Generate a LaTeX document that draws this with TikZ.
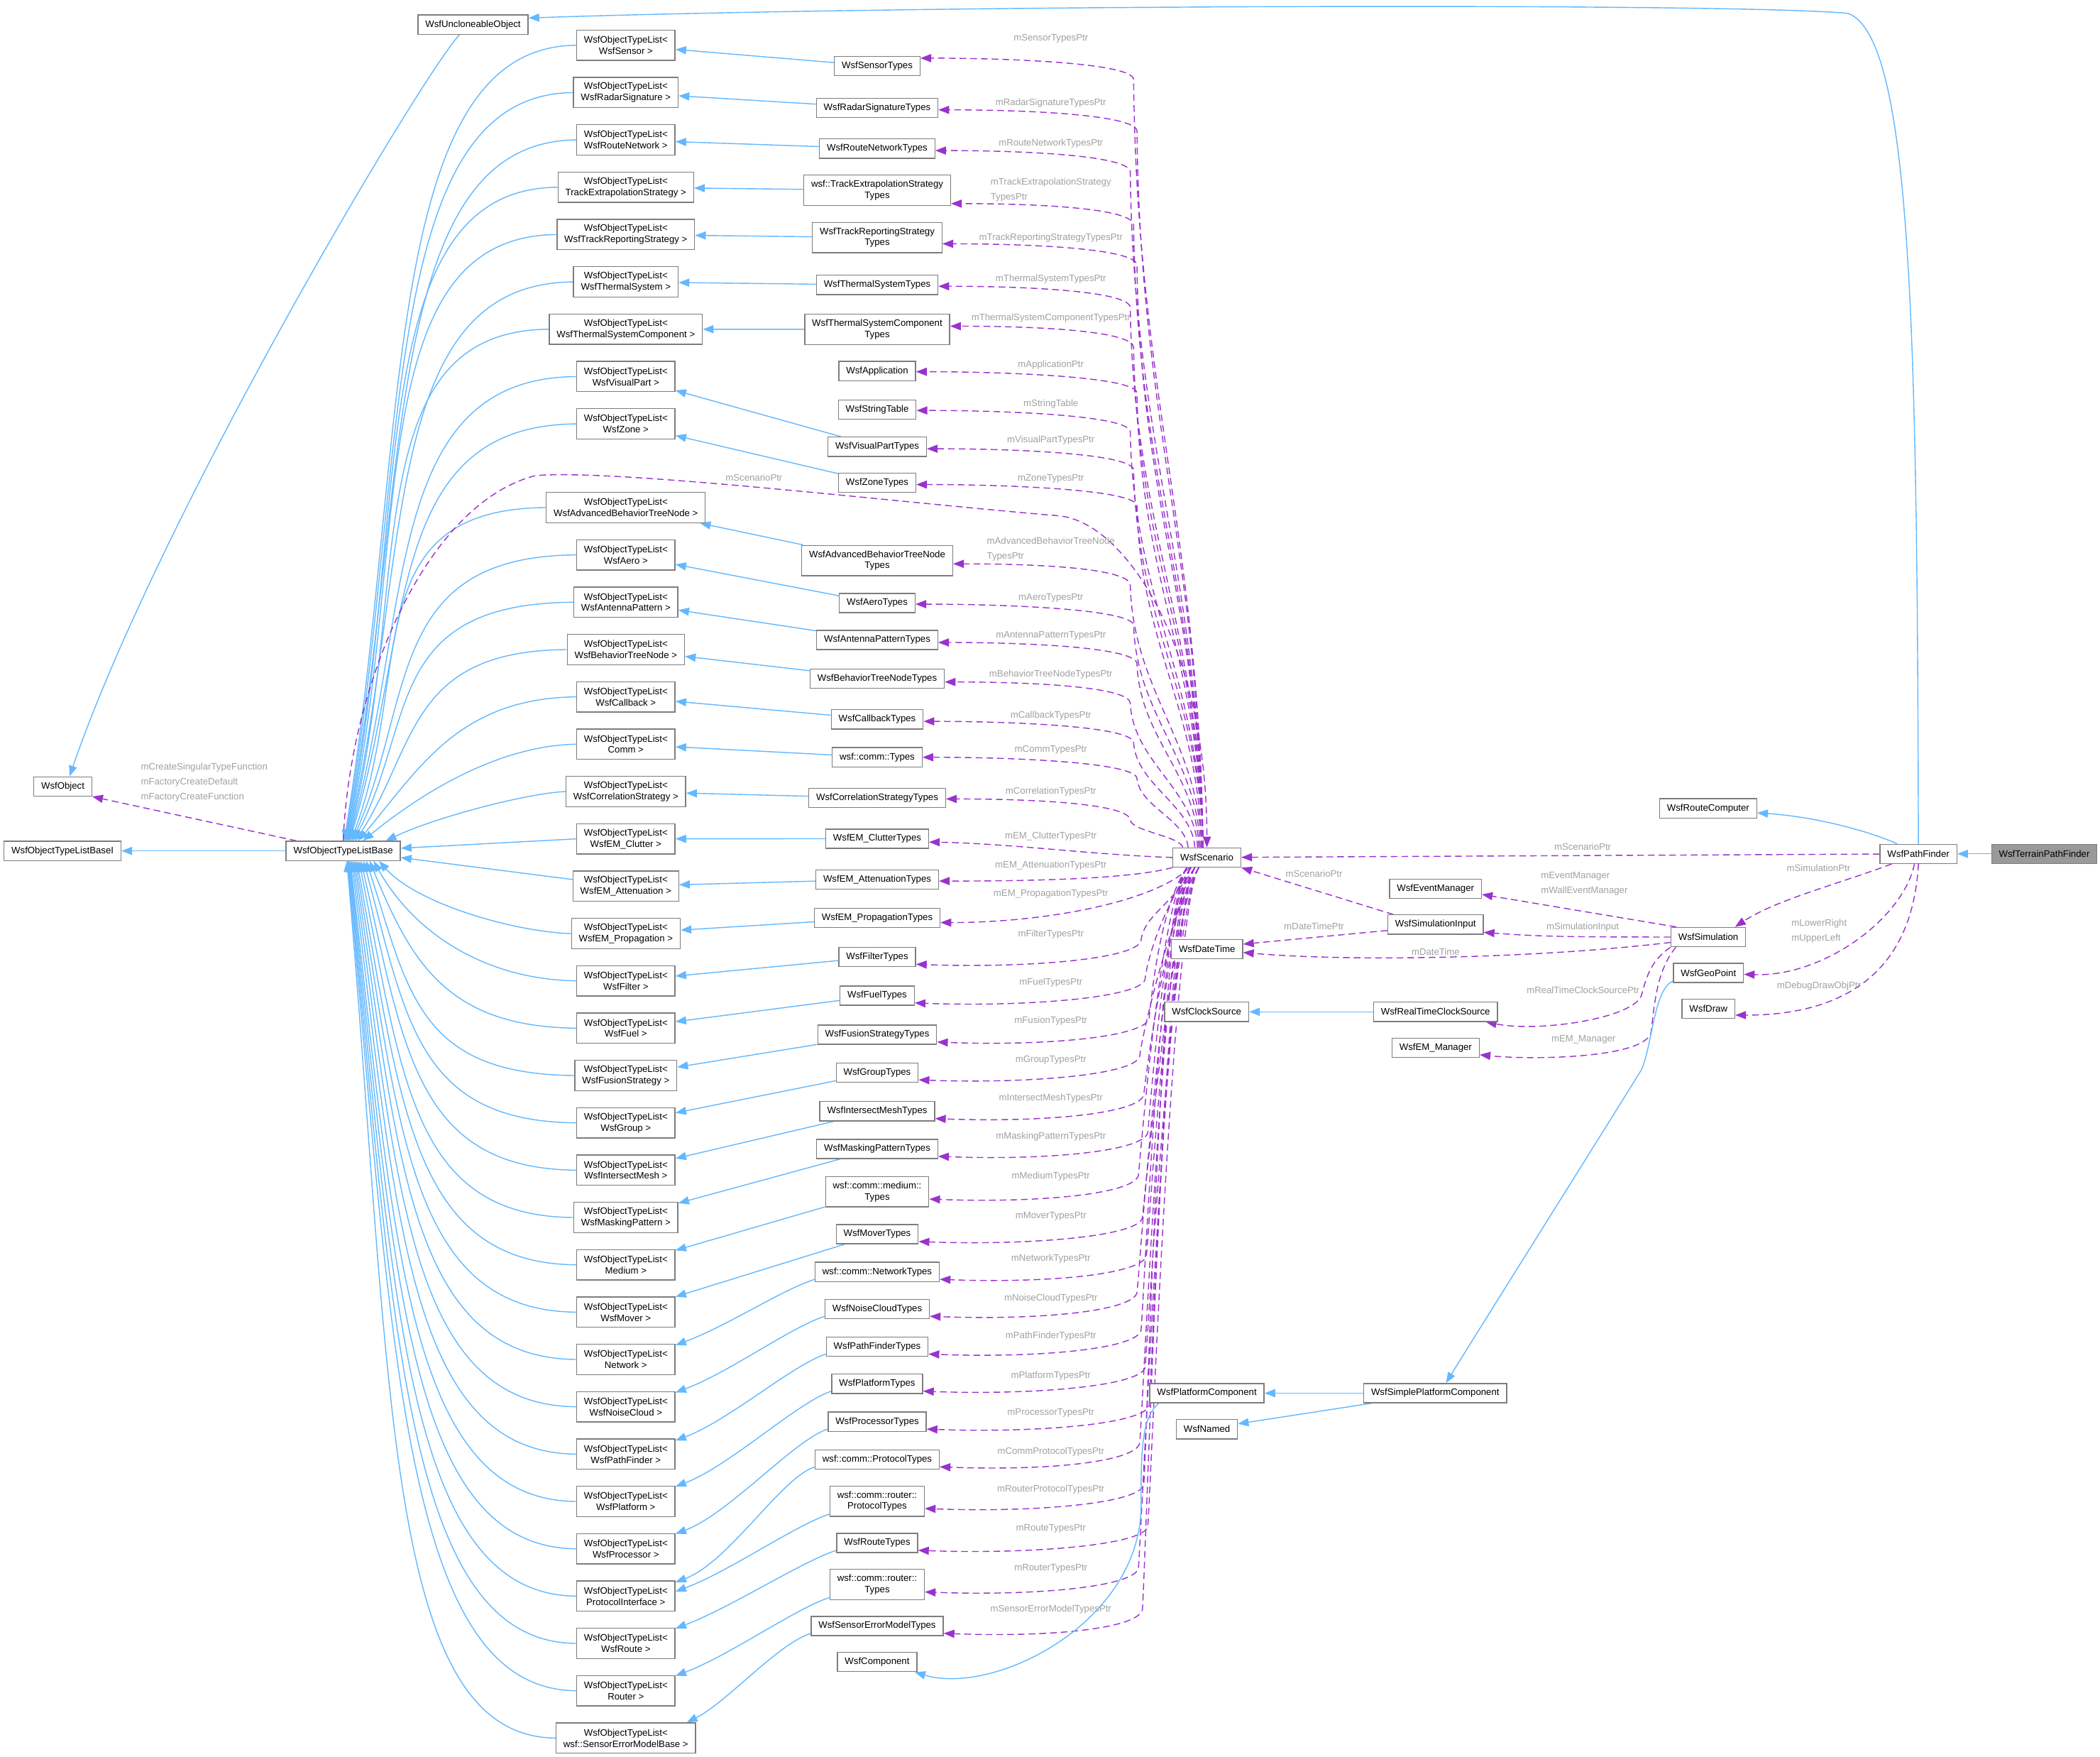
\documentclass[tikz,border=0pt]{standalone}
\usepackage{fontspec}
\setmainfont{Liberation Sans}
\usetikzlibrary{arrows.meta, backgrounds}
\definecolor{inhblue}{RGB}{99,184,255}
\definecolor{usepurple}{RGB}{154,50,205}
\definecolor{lblgrey}{RGB}{160,160,160}
\definecolor{boxgrey}{RGB}{125,125,125}
\definecolor{hilitegrey}{RGB}{153,153,153}
\tikzset{
  cls/.style={draw=boxgrey, line width=0.7pt, fill=white, inner xsep=5.5pt, inner ysep=3.85pt,
    minimum height=14.4pt, align=center, font=\fontsize{7}{8.4}\selectfont},
  tlist/.style={cls, minimum height=22.6pt},
  hilite/.style={cls, fill=hilitegrey},
  inh/.style={draw=inhblue, line width=0.75pt, -{Triangle[length=8pt,width=6pt]}},
  member/.style={draw=usepurple, line width=0.75pt, dash pattern=on 5pt off 3pt, -{Triangle[length=8pt,width=6pt]}},
  lbl/.style={text=lblgrey, inner sep=0pt, align=left, font=\fontsize{7}{11.1}\selectfont},
}

\begin{document}
\begin{tikzpicture}[x=1pt, y=-1pt]
  \useasboundingbox (0,0) rectangle (1568.1,1311.6);

  % base classes on the left
  \node[cls] (uncl) at (353.2,18.4) {WsfUncloneableObject};
  \node[cls] (obj) at (46.9,587.1) {WsfObject};
  \node[cls] (tlbi) at (46.7,635.2) {WsfObjectTypeListBaseI};
  \node[cls] (tlb) at (256.3,635.2) {WsfObjectTypeListBase};

  % the object type lists
  \foreach \k/\tx [count=\i] in {Sensor/WsfSensor, RadarSignature/WsfRadarSignature,
      RouteNetwork/WsfRouteNetwork, TrackExtrapolation/TrackExtrapolationStrategy,
      TrackReporting/WsfTrackReportingStrategy, ThermalSystem/WsfThermalSystem,
      ThermalSystemComponent/WsfThermalSystemComponent, VisualPart/WsfVisualPart, Zone/WsfZone,
      AdvBT/WsfAdvancedBehaviorTreeNode, Aero/WsfAero, AntennaPattern/WsfAntennaPattern,
      BehaviorTreeNode/WsfBehaviorTreeNode, Callback/WsfCallback, Comm/Comm,
      Correlation/WsfCorrelationStrategy, EMClutter/WsfEM\_Clutter, EMAttenuation/WsfEM\_Attenuation,
      EMPropagation/WsfEM\_Propagation, Filter/WsfFilter, Fuel/WsfFuel, Fusion/WsfFusionStrategy,
      Group/WsfGroup, IntersectMesh/WsfIntersectMesh, MaskingPattern/WsfMaskingPattern,
      Medium/Medium, Mover/WsfMover, Network/Network, NoiseCloud/WsfNoiseCloud,
      PathFinder/WsfPathFinder, Platform/WsfPlatform, Processor/WsfProcessor,
      ProtocolInterface/ProtocolInterface, Route/WsfRoute, Router/Router,
      SensorErrorModel/wsf::SensorErrorModelBase} {
    \ifnum\i<10
      \pgfmathsetmacro{\y}{33.8+35.33*(\i-1)}
    \else
      \pgfmathsetmacro{\y}{378.9+35.33*(\i-10)}
    \fi
    \node[tlist] (l\k) at (467.3,\y) {WsfObjectTypeList<\\\tx{} >};
  }

  % the type tables
  \foreach \k/\y/\mh/\tx in {Sensor/49.4/14.4/WsfSensorTypes,
      RadarSignature/80.5/14.4/WsfRadarSignatureTypes,
      RouteNetwork/110.9/14.4/WsfRouteNetworkTypes,
      TrackExtrapolation/142/22.6/{wsf::TrackExtrapolationStrategy\\Types},
      TrackReporting/177.3/22.6/{WsfTrackReportingStrategy\\Types},
      ThermalSystem/212.7/14.4/WsfThermalSystemTypes,
      ThermalSystemComponent/245.8/22.6/{WsfThermalSystemComponent\\Types},
      Application/277/14.4/WsfApplication,
      StringTable/305.9/14.4/WsfStringTable,
      VisualPart/333.5/14.4/WsfVisualPartTypes,
      Zone/360.4/14.4/WsfZoneTypes,
      AdvBT/418.4/22.6/{WsfAdvancedBehaviorTreeNode\\Types},
      Aero/450.2/14.4/WsfAeroTypes,
      AntennaPattern/477.7/14.4/WsfAntennaPatternTypes,
      BehaviorTreeNode/506.5/14.4/WsfBehaviorTreeNodeTypes,
      Callback/537/14.4/WsfCallbackTypes,
      Comm/565.3/14.4/wsf::comm::Types,
      Correlation/595.7/14.4/WsfCorrelationStrategyTypes,
      EMClutter/626.1/14.4/WsfEM\_ClutterTypes,
      EMAttenuation/656.5/14.4/WsfEM\_AttenuationTypes,
      EMPropagation/685.2/14.4/WsfEM\_PropagationTypes,
      Filter/714.3/14.4/WsfFilterTypes,
      Fuel/743.2/14.4/WsfFuelTypes,
      Fusion/772.4/14.4/WsfFusionStrategyTypes,
      Group/800.6/14.4/WsfGroupTypes,
      IntersectMesh/829.5/14.4/WsfIntersectMeshTypes,
      MaskingPattern/857.7/14.4/WsfMaskingPatternTypes,
      Medium/889.6/22.6/{wsf::comm::medium::\\Types},
      Mover/921.3/14.4/WsfMoverTypes,
      Network/949.5/14.4/wsf::comm::NetworkTypes,
      NoiseCloud/977.1/14.4/WsfNoiseCloudTypes,
      PathFinder/1005.3/14.4/WsfPathFinderTypes,
      Platform/1033/14.4/WsfPlatformTypes,
      Processor/1061.3/14.4/WsfProcessorTypes,
      Protocol/1089.5/14.4/wsf::comm::ProtocolTypes,
      RouterProtocol/1120.6/22.6/{wsf::comm::router::\\ProtocolTypes},
      Route/1151.8/14.4/WsfRouteTypes,
      Router/1182.9/22.6/{wsf::comm::router::\\Types},
      SensorErrorModel/1213.8/14.4/WsfSensorErrorModelTypes,
      Component/1240.7/14.4/WsfComponent} {
    \node[cls, minimum height=\mh pt] (t\k) at (655,\y) {\tx};
  }

  % member names of the scenario
  \foreach \ly/\lt [count=\j] in {28.9/mSensorTypesPtr, 76.7/mRadarSignatureTypesPtr,
      107.3/mRouteNetworkTypesPtr, 141.7/{mTrackExtrapolationStrategy\\TypesPtr},
      177.4/mTrackReportingStrategyTypesPtr, 208.2/mThermalSystemTypesPtr,
      237.4/mThermalSystemComponentTypesPtr, 272.2/mApplicationPtr, 301.4/mStringTable,
      328.8/mVisualPartTypesPtr, 357.5/mZoneTypesPtr, 409.8/{mAdvancedBehaviorTreeNode\\TypesPtr},
      446.2/mAeroTypesPtr, 474.6/mAntennaPatternTypesPtr, 503.7/mBehaviorTreeNodeTypesPtr,
      534/mCallbackTypesPtr, 560/mCommTypesPtr, 590.8/mCorrelationTypesPtr,
      624.1/mEM\_ClutterTypesPtr, 645.9/mEM\_AttenuationTypesPtr, 667.2/mEM\_PropagationTypesPtr,
      697.7/mFilterTypesPtr, 733.7/mFuelTypesPtr, 761.9/mFusionTypesPtr, 791.1/mGroupTypesPtr,
      819.6/mIntersectMeshTypesPtr, 848.7/mMaskingPatternTypesPtr, 878/mMediumTypesPtr,
      908.2/mMoverTypesPtr, 939.4/mNetworkTypesPtr, 969.2/mNoiseCloudTypesPtr,
      997.5/mPathFinderTypesPtr, 1026.8/mPlatformTypesPtr, 1055/mProcessorTypesPtr,
      1083.6/mCommProtocolTypesPtr, 1111.8/mRouterProtocolTypesPtr, 1141.3/mRouteTypesPtr,
      1170.8/mRouterTypesPtr, 1201.3/mSensorErrorModelTypesPtr} {
    \node[lbl] (lb\j) at (784.7,\ly) {\lt};
  }

  % right side
  \node[cls] (sc) at (901.2,640.1) {WsfScenario};
  \node[cls] (rc) at (1275.5,603.4) {WsfRouteComputer};
  \node[cls] (pf) at (1432.5,637.4) {WsfPathFinder};
  \node[hilite] (tpf) at (1526.5,637.4) {WsfTerrainPathFinder};
  \node[cls] (evm) at (1071.9,663.4) {WsfEventManager};
  \node[cls] (simin) at (1071.9,690.2) {WsfSimulationInput};
  \node[cls] (sim) at (1275.6,699.5) {WsfSimulation};
  \node[cls] (dt) at (901.3,708.6) {WsfDateTime};
  \node[cls] (geo) at (1275.7,726.3) {WsfGeoPoint};
  \node[cls] (cs) at (901,755.3) {WsfClockSource};
  \node[cls] (rtc) at (1071.9,755.3) {WsfRealTimeClockSource};
  \node[cls] (wdraw) at (1275.7,753) {WsfDraw};
  \node[cls] (emm) at (1072,782.1) {WsfEM\_Manager};
  \node[cls] (pc) at (901.2,1040) {WsfPlatformComponent};
  \node[cls] (spc) at (1071.7,1040) {WsfSimplePlatformComponent};
  \node[cls] (nm) at (901.2,1066.9) {WsfNamed};

  \node[lbl] (lbA) at (1181.8,632) {mScenarioPtr};
  \node[lbl] (lbB) at (981.2,652.2) {mScenarioPtr};
  \node[lbl, anchor=west] (lbC) at (1150.5,659.8) {mEventManager\\mWallEventManager};
  \node[lbl] (lbD) at (981.2,691.7) {mDateTimePtr};
  \node[lbl] (lbE) at (1181.8,692.3) {mSimulationInput};
  \node[lbl] (lbF) at (1072,710.5) {mDateTime};
  \node[lbl] (lbG) at (1182.1,738.9) {mRealTimeClockSourcePtr};
  \node[lbl] (lbH) at (1182.4,776) {mEM\_Manager};
  \node[lbl] (lbI) at (1357.9,647.8) {mSimulationPtr};
  \node[lbl, anchor=west] (lbJ) at (1337.6,694.9) {mLowerRight\\mUpperLeft};
  \node[lbl] (lbK) at (1358.2,736.2) {mDebugDrawObjPtr};
  \node[lbl, anchor=west] (lbL) at (105,583.9) {mCreateSingularTypeFunction\\mFactoryCreateDefault\\mFactoryCreateFunction};
  \node[lbl] (lbM) at (563,356.5) {mScenarioPtr};

  \begin{scope}[on background layer]
    % lists down to the common base
    \foreach \k/\ax [count=\i] in {Sensor/257, RadarSignature/257.5, RouteNetwork/258,
        TrackExtrapolation/258.5, TrackReporting/259, ThermalSystem/259.5,
        ThermalSystemComponent/260, VisualPart/260.5, Zone/261, AdvBT/262, Aero/263,
        AntennaPattern/264, BehaviorTreeNode/265.5, Callback/267.5, Comm/271, Correlation/288,
        EMClutter/0, EMAttenuation/0, EMPropagation/283, Filter/279, Fuel/276, Fusion/273.5,
        Group/271.5, IntersectMesh/269.5, MaskingPattern/268, Medium/266.5, Mover/265.5,
        Network/264.5, NoiseCloud/263.5, PathFinder/262.5, Platform/261.5, Processor/261,
        ProtocolInterface/260.5, Route/260, Router/259.5, SensorErrorModel/259} {
      \ifnum\i<10
        \pgfmathsetmacro{\y}{33.8+35.33*(\i-1)}
      \else
        \pgfmathsetmacro{\y}{378.9+35.33*(\i-10)}
      \fi
      \pgfmathsetmacro{\sx}{\ax-256.3}
      \ifnum\i<17
        \pgfmathsetmacro{\ca}{(430-\ax)*min(0.85,(628.1-\y)/200)}
        \pgfmathsetmacro{\cb}{0.28*(430-\ax)}
        \pgfmathsetmacro{\cc}{0.5*(628.1-\y)}
        \draw[inh] (l\k.west) .. controls +(-\ca,1) and +(\cb,-\cc) .. ([xshift=\sx pt]tlb.north);
      \else\ifnum\i>18
        \pgfmathsetmacro{\ca}{(430-\ax)*min(0.75,(\y-642.3)/200)}
        \pgfmathsetmacro{\cb}{0.2*(430-\ax)}
        \pgfmathsetmacro{\cc}{0.6*(\y-642.3)}
        \draw[inh] (l\k.west) .. controls +(-\ca,-1) and +(\cb,\cc) .. ([xshift=\sx pt]tlb.south);
      \fi\fi
    }
    \draw[inh] (lEMClutter.west) -- ([yshift=2pt]tlb.east);
    \draw[inh] ([yshift=5pt]lEMAttenuation.west) -- ([yshift=-5pt]tlb.east);

    % type tables to their lists
    \foreach \k in {Sensor, RadarSignature, RouteNetwork, TrackExtrapolation, TrackReporting,
        ThermalSystem, ThermalSystemComponent, VisualPart, Zone, AdvBT, Aero, AntennaPattern,
        BehaviorTreeNode, Callback, Comm, Correlation, EMClutter, EMAttenuation, EMPropagation,
        Filter, Fuel, Fusion, Group, IntersectMesh, MaskingPattern, Medium, Mover}
      \draw[inh] (t\k) -- (l\k);
    \foreach \a/\b/\e in {Network/Network/-1, NoiseCloud/NoiseCloud/-1, PathFinder/PathFinder/-1.5,
        Platform/Platform/-0.5, Processor/Processor/-0.5, Protocol/ProtocolInterface/-1.3,
        RouterProtocol/ProtocolInterface/-8.3, Route/Route/-0.5, Router/Router/-0.5}
      \draw[inh] ([yshift=2pt]t\a.south west) .. controls +(-25,8) and +(40,-15) .. ([yshift=\e pt]l\b.north east);
    \draw[inh] ([yshift=2pt]tSensorErrorModel.south west) .. controls +(-25,8) and +(30,-15) .. ([xshift=-7pt]lSensorErrorModel.north east);

    % scenario members, upper part
    \foreach \k/\y/\sxs/\dy [count=\i] in {Sensor/49.4/-3/6, RadarSignature/80.5/-3/-1.5,
        RouteNetwork/110.9/-3/-1.5, TrackExtrapolation/142/-3/-10, TrackReporting/177.3/-3/-4.7,
        ThermalSystem/212.7/-3/-1, ThermalSystemComponent/245.8/-3/2.3, Application/277/-3/-0.5,
        StringTable/305.9/-3/-0.5, VisualPart/333.5/-3/-1.5, Zone/360.4/-4/-1.3,
        AdvBT/418.4/-4/-2.5, Aero/450.2/-5/-0.8, AntennaPattern/477.7/-6/-1.9,
        BehaviorTreeNode/506.5/-7/-2.6, Callback/537/-9/-1.5, Comm/565.3/-14/0,
        Correlation/595.7/-18/-0.7} {
      \pgfmathsetmacro{\cy}{\y-\dy+16}
      \pgfmathsetmacro{\hl}{0.4*(632.9-\cy)}
      \pgfmathsetmacro{\cx}{844+mod(\i,3)*2.5}
      \draw[member] ([xshift=\sxs pt]sc.north) .. controls +(-2,-\hl) and +(2,\hl) .. (\cx,\cy)
        .. controls +(0,-12) and +(70,0) .. ([yshift=\dy pt]t\k.east);
    }
    \draw[member] (sc.west) .. controls +(-60,-2) and +(60,1) .. ([yshift=-2.5pt]tEMClutter.east);
    \draw[member] (sc.south west) .. controls +(-30,8) and +(80,0) .. ([yshift=-1.2pt]tEMAttenuation.east);
    \draw[member] ([xshift=-13pt]sc.south) .. controls +(-25,25) and +(80,0) .. ([yshift=-3.5pt]tEMPropagation.east);

    % scenario members, lower part
    \foreach \k/\y [count=\i] in {Filter/714.3, Fuel/743.2, Fusion/772.4, Group/800.6,
        IntersectMesh/829.5, MaskingPattern/857.7, Medium/889.6, Mover/921.3, Network/949.5,
        NoiseCloud/977.1, PathFinder/1005.3, Platform/1033, Processor/1061.3, Protocol/1089.5,
        RouterProtocol/1120.6, Route/1151.8, Router/1182.9, SensorErrorModel/1213.8} {
      \pgfmathsetmacro{\kx}{849+mod(\i*3,10)}
      \pgfmathsetmacro{\ky}{\y-12}
      \pgfmathsetmacro{\ss}{-6-mod(\i,4)*3}
      \draw[member] ([xshift=\ss pt]sc.south) .. controls +(-20,30) and +(2,-18) .. (\kx,\ky)
        .. controls +(-4,14) and +(80,3) .. ([yshift=-5.5pt]t\k.east);
    }

    % left part
    \draw[inh] (tlb) -- (tlbi);
    \draw[member] ([xshift=8pt]tlb.north west) -- (obj.south east);
    \draw[inh] ([xshift=-10pt]uncl.south) .. controls +(-25,25) and +(68,-197) .. ([xshift=5pt]obj.north);
    \draw[member] (tlb.north) .. controls +(5,-120) and +(-80,20) .. (400,355)
      .. controls +(60,-5) and +(-120,-10) .. (790,385) .. controls +(50,4) and +(0,-150) .. (sc.north);

    % right part
    \draw[inh] (tpf) -- (pf);
    \draw[inh] ([xshift=-16pt]pf.north) .. controls +(-20,-9) and +(45,3) .. ([yshift=-3.4pt]rc.east);
    \draw[inh] (pf.north) .. controls +(-1,-380) and +(48,18) .. (1380,10)
      .. controls +(-80,-8) and +(300,-10) .. ([yshift=5pt]uncl.east);
    \draw[member] (pf) -- (sc);
    \draw[member] ([xshift=-20pt]pf.south) .. controls +(-40,15) and +(30,-20) .. ([xshift=20pt]sim.north);
    \draw[member] ([xshift=-3pt]pf.south) .. controls +(-8,40) and +(60,2) .. ([yshift=-1pt]geo.east);
    \draw[member] (pf.south) .. controls +(-5,90) and +(70,0) .. ([yshift=-4.8pt]wdraw.east);
    \draw[member] ([xshift=-24pt]sim.north) -- ([yshift=-4.3pt]evm.east);
    \draw[member] (sim.west) .. controls +(-80,0) and +(40,3) .. ([yshift=-5.8pt]simin.east);
    \draw[member] ([yshift=-4pt]sim.west) .. controls +(-100,12) and +(80,7) .. ([yshift=-2.4pt]dt.east);
    \draw[member] ([yshift=-4.4pt]simin.west) -- ([yshift=3.8pt]dt.east);
    \draw[member] ([xshift=4.5pt]simin.north west) -- (sc.south east);
    \draw[member] (sim.south west) .. controls +(-14,10) and +(4,-15) .. (1226,742)
      .. controls +(-4,18) and +(40,8) .. ([xshift=-9pt]rtc.south east);
    \draw[member] ([xshift=4pt]sim.south west) .. controls +(-12,15) and +(3,-30) .. (1233,770)
      .. controls +(-3,20) and +(40,4) .. ([yshift=-5.3pt]emm.east);
    \draw[inh] (rtc) -- (cs);
    \draw[inh] ([yshift=-6pt]geo.west) .. controls +(-14,6) and +(8,-20) .. (1226,798)
      .. controls +(-29,47) and +(29,-47) .. ([xshift=8pt]spc.north);
    \draw[inh] (spc) -- (pc);
    \draw[inh] ([xshift=6pt]spc.south west) -- ([yshift=4pt]nm.east);
    \draw[inh] ([xshift=7pt]pc.south west) .. controls +(-12,10) and +(0,-40) .. (852,1120)
      .. controls +(3,90) and +(60,18) .. ([xshift=-2pt]tComponent.south east);
  \end{scope}
\end{tikzpicture}
\end{document}
